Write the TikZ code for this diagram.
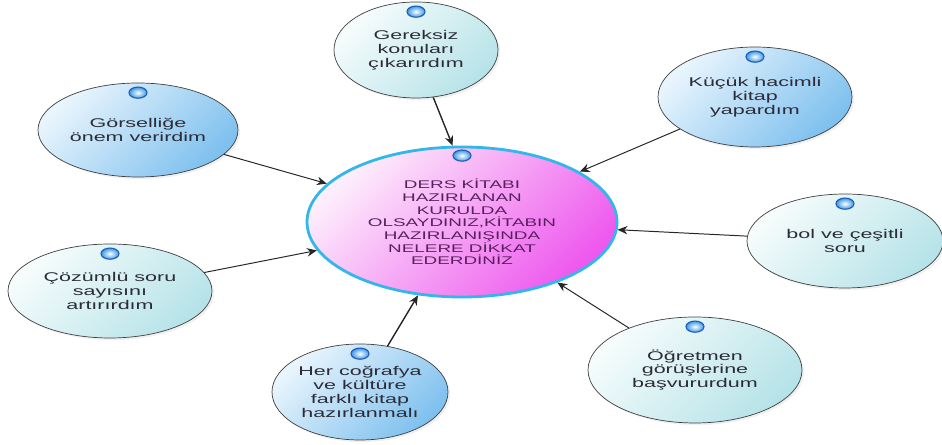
\documentclass[tikz,border=0pt]{standalone}
\usepackage{fontspec}
\usetikzlibrary{arrows.meta,shapes.geometric,shadows}
\newfontfamily\mapfont[FakeStretch=1.7]{Liberation Sans}
\definecolor{ringblue}{HTML}{33B7EA}
\definecolor{hubA}{HTML}{FDEEFC}
\definecolor{hubB}{HTML}{EE58EE}
\definecolor{hubtext}{HTML}{5A1F5E}
\definecolor{blueA}{HTML}{E9F5FD}
\definecolor{blueB}{HTML}{7EC0EE}
\definecolor{cyanA}{HTML}{F6FCFC}
\definecolor{cyanB}{HTML}{B6E3E8}
\definecolor{knobblue}{HTML}{3C98E6}
\definecolor{knobedge}{HTML}{1E5DB8}
\definecolor{bubbletext}{HTML}{2C2C38}

\begin{document}
\begin{tikzpicture}[
    bubble/.style={ellipse, draw=black!75, line width=0.5pt, inner sep=0pt, align=center,
      font=\mapfont\fontsize{9}{9.9}\selectfont, text=bubbletext,
      drop shadow={opacity=0.12, shadow xshift=1.5pt, shadow yshift=-1.5pt}},
    bluebubble/.style={bubble, top color=blueA, bottom color=blueB, shading angle=45},
    cyanbubble/.style={bubble, top color=cyanA, bottom color=cyanB, shading angle=45},
    hub/.style={ellipse, draw=ringblue, line width=2pt, inner sep=0pt, align=center,
      top color=hubA, bottom color=hubB, shading angle=45,
      font=\mapfont\fontsize{7.9}{9}\selectfont, text=hubtext,
      minimum width=7.75cm, minimum height=3.75cm},
    knob/.style={ellipse, draw=knobedge, line width=0.8pt, inner color=white, outer color=knobblue,
      minimum width=0.45cm, minimum height=0.28cm, inner sep=0pt},
    link/.style={draw=black!85, line width=0.7pt, -{Stealth[length=7pt,width=6pt]}}
  ]
  \useasboundingbox (0,0) rectangle (23.55,11.125);

  \node[hub] (hub) at (11.55,5.575) {DERS K\.ITABI\\HAZIRLANAN\\KURULDA\\OLSAYDINIZ,K\.ITABIN\\HAZIRLANI\c SINDA\\NELERE D\.IKKAT\\EDERD\.IN\.IZ};

  \node[cyanbubble, minimum width=4.1cm, minimum height=2.4cm] (gereksiz) at (10.4,9.875) {Gereksiz\\konuları\\çıkarırdım};
  \node[bluebubble, minimum width=5cm, minimum height=2.35cm] (gorsel) at (3.45,7.875) {Görselliğe\\önem verirdim};
  \node[bluebubble, minimum width=4.85cm, minimum height=2.5cm] (kucuk) at (18.875,8.7) {Küçük hacimli\\kitap\\yapardım};
  \node[cyanbubble, minimum width=4.9cm, minimum height=2.35cm] (bol) at (21.125,5.1) {bol ve çeşitli\\soru};
  \node[cyanbubble, minimum width=5.1cm, minimum height=2.35cm] (cozumlu) at (2.75,3.85) {Çözümlü soru\\sayısını\\artırırdım};
  \node[bluebubble, minimum width=4.4cm, minimum height=2.4cm] (her) at (9.0,1.325) {Her coğrafya\\ve kültüre\\farklı kitap\\hazırlanmalı};
  \node[cyanbubble, minimum width=5.35cm, minimum height=2.65cm] (ogretmen) at (17.375,1.875) {Öğretmen\\görüşlerine\\başvururdum};

  \foreach \n in {hub,gereksiz,gorsel,kucuk,bol,cozumlu,her,ogretmen} {
      \node[knob] (\n-knob) at ([yshift=-0.25cm]\n.north) {};
  }
  \draw[link, line width=1pt] (gereksiz.290) -- (hub.97);
  \draw[link, line width=1pt] (her) -- (hub);
  \foreach \n in {gorsel,kucuk,bol,cozumlu,ogretmen} {
      \draw[link] (\n) -- (hub);
  }
\end{tikzpicture}
\end{document}
